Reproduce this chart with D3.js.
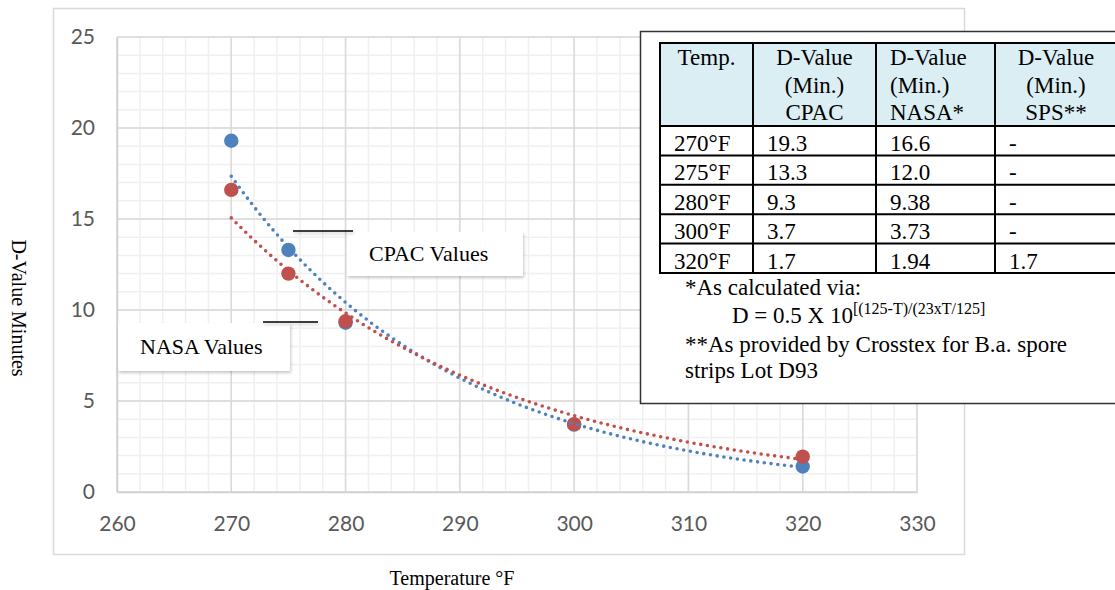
<!DOCTYPE html>
<html>
<head>
<meta charset="utf-8">
<script src="https://cdn.jsdelivr.net/npm/d3@7"></script>
<style>
  body { margin: 0; background: #fff; }
  svg { display: block; }
</style>
</head>
<body>
<svg id="chart" width="1115" height="590"></svg>
<script>
/*
  D-value vs temperature scatter with exponential trendlines and data table.
*/

// Measured temperatures (°F) and D-values (minutes) as plotted.
const temps = [270, 275, 280, 300, 320];
const cpacValues = [19.3, 13.3, 9.3, 3.7, 1.4];
const nasaValues = [16.6, 12.0, 9.38, 3.73, 1.94];

// Axis ticks.
const xTicks = [260, 270, 280, 290, 300, 310, 320, 330];
const yTicks = [0, 5, 10, 15, 20, 25];

// Table contents.
const tableHeaders = [
    ['Temp.'],
    ['D-Value', '(Min.)', 'CPAC'],
    ['D-Value', '(Min.)', 'NASA*'],
    ['D-Value', '(Min.)', 'SPS**']
];
const tableRows = [
    ['270°F', '19.3', '16.6', '-'],
    ['275°F', '13.3', '12.0', '-'],
    ['280°F', '9.3', '9.38', '-'],
    ['300°F', '3.7', '3.73', '-'],
    ['320°F', '1.7', '1.94', '1.7']
];

const colBlue = '#4f81bd',
    colRed = '#c0504d';

let svg = d3.select('#chart');

// Drop shadow for the callout boxes and leader lines (user space, so thin lines keep it).
let defs = svg.append('defs');
let shadow = defs.append('filter').attr('id', 'shadow')
    .attr('filterUnits', 'userSpaceOnUse')
    .attr('x', 0).attr('y', 0).attr('width', 1115).attr('height', 590);
shadow.append('feDropShadow')
    .attr('dx', 1).attr('dy', 2).attr('stdDeviation', 1.8)
    .attr('flood-color', '#000').attr('flood-opacity', 0.22);

// Outer chart frame.
svg.append('rect')
    .attr('x', 53.5).attr('y', 8.5).attr('width', 911).attr('height', 546)
    .attr('fill', '#fff').attr('stroke', '#d9d9d9').attr('stroke-width', 1.5);

// Scales.
let x = d3.scaleLinear().domain([260, 330]).range([117, 917]);
let y = d3.scaleLinear().domain([0, 25]).range([492, 37]);

// Gridlines: minor first, then major.
let grid = svg.append('g');
grid.selectAll('.xminor').data(d3.range(260, 331, 2))
    .enter().append('line')
    .attr('x1', d => x(d)).attr('x2', d => x(d))
    .attr('y1', y(0)).attr('y2', y(25))
    .attr('stroke', '#f0f0f0').attr('stroke-width', 1.5);
grid.selectAll('.yminor').data(d3.range(0, 26, 1))
    .enter().append('line')
    .attr('x1', x(260)).attr('x2', x(330))
    .attr('y1', d => y(d)).attr('y2', d => y(d))
    .attr('stroke', '#f0f0f0').attr('stroke-width', 1.5);
grid.selectAll('.xmajor').data(xTicks)
    .enter().append('line')
    .attr('x1', d => x(d)).attr('x2', d => x(d))
    .attr('y1', y(0)).attr('y2', y(25))
    .attr('stroke', '#d9d9d9').attr('stroke-width', 1.5);
grid.selectAll('.ymajor').data(yTicks)
    .enter().append('line')
    .attr('x1', x(260)).attr('x2', x(330))
    .attr('y1', d => y(d)).attr('y2', d => y(d))
    .attr('stroke', '#d9d9d9').attr('stroke-width', 1.5);

// Axes (labels only, Excel style).
let xAxis = svg.append('g')
    .attr('transform', `translate(0,${y(0)})`)
    .call(d3.axisBottom(x).tickValues(xTicks).tickSize(0).tickPadding(24));
let yAxis = svg.append('g')
    .attr('transform', `translate(${x(260)},0)`)
    .call(d3.axisLeft(y).tickValues(yTicks).tickSize(0).tickPadding(22));
[xAxis, yAxis].forEach(a => {
    a.select('.domain').attr('stroke', '#d0d0d0').attr('stroke-width', 1.5);
    a.selectAll('text')
        .attr('fill', '#595959')
        .style('font-family', 'Lato, "Open Sans", sans-serif')
        .style('font-size', '21px');
});

// Axis titles.
svg.append('text')
    .attr('transform', 'translate(12,308) rotate(90)')
    .attr('text-anchor', 'middle')
    .style('font-family', '"Liberation Serif", "Times New Roman", serif')
    .style('font-size', '20px')
    .text('D-Value Minutes');
svg.append('text')
    .attr('x', 452).attr('y', 585)
    .attr('text-anchor', 'middle')
    .style('font-family', '"Liberation Serif", "Times New Roman", serif')
    .style('font-size', '20px')
    .text('Temperature °F');

// Callout boxes with leader lines.
const callouts = [
    { text: 'CPAC Values', box: [347, 232, 176, 44], lead: [293, 353, 231] },
    { text: 'NASA Values', box: [118, 323, 172, 48], lead: [263, 318, 322] }
];
let calloutG = svg.append('g');
callouts.forEach(c => {
    calloutG.append('rect')
        .attr('x', c.box[0]).attr('y', c.box[1])
        .attr('width', c.box[2]).attr('height', c.box[3])
        .attr('fill', '#fff').attr('filter', 'url(#shadow)');
    calloutG.append('line')
        .attr('x1', c.lead[0]).attr('x2', c.lead[1])
        .attr('y1', c.lead[2]).attr('y2', c.lead[2])
        .attr('stroke', '#000').attr('stroke-width', 1.5)
        .attr('filter', 'url(#shadow)');
    calloutG.append('text')
        .attr('x', c.box[0] + 22).attr('y', c.box[1] + c.box[3] / 2 + 7)
        .style('font-family', '"Liberation Serif", "Times New Roman", serif')
        .style('font-size', '22px')
        .text(c.text);
});

// Exponential least-squares fit, as an Excel trendline does.
const expFit = (xs, ys) => {
    let ly = ys.map(Math.log);
    let mx = d3.mean(xs), my = d3.mean(ly);
    let sxy = d3.sum(xs, (v, i) => (v - mx) * (ly[i] - my));
    let sxx = d3.sum(xs, v => (v - mx) * (v - mx));
    let b = sxy / sxx, a = my - b * mx;
    return t => Math.exp(a + b * t);
};

const series = [
    { values: cpacValues, color: colBlue },
    { values: nasaValues, color: colRed }
];

// Markers.
series.forEach(s => {
    svg.append('g').selectAll('circle')
        .data(temps)
        .enter().append('circle')
        .attr('cx', d => x(d))
        .attr('cy', (d, i) => y(s.values[i]))
        .attr('r', 7.2)
        .attr('fill', s.color);
});

// Dotted trendlines.
let line = d3.line().x(d => x(d[0])).y(d => y(d[1]));
series.forEach(s => {
    let f = expFit(temps, s.values);
    let pts = d3.range(temps[0], temps[temps.length - 1] + 0.01, 0.5).map(t => [t, f(t)]);
    svg.append('path')
        .datum(pts)
        .attr('d', line)
        .attr('fill', 'none')
        .attr('stroke', s.color)
        .attr('stroke-width', 3.6)
        .attr('stroke-linecap', 'round')
        .attr('stroke-dasharray', '0 6.8');
});

// Table panel.
let tbl = svg.append('g')
    .style('font-family', '"Liberation Serif", "Times New Roman", serif')
    .style('font-size', '23px');
tbl.append('rect')
    .attr('x', 640.5).attr('y', 31.5).attr('width', 520).attr('height', 372)
    .attr('fill', '#fff').attr('stroke', '#333').attr('stroke-width', 1.5);

const colEdges = [660, 753, 876, 995, 1117];
const headTop = 43, headBottom = 126, rowH = 29.4;
const headAnchor = ['middle', 'middle', 'start', 'middle'];

tbl.append('rect')
    .attr('x', colEdges[0]).attr('y', headTop)
    .attr('width', colEdges[4] - colEdges[0]).attr('height', headBottom - headTop)
    .attr('fill', '#dbeef3');

tableHeaders.forEach((lines, c) => {
    let anchor = headAnchor[c];
    let tx = anchor === 'middle' ? (colEdges[c] + colEdges[c + 1]) / 2 : colEdges[c] + 14;
    lines.forEach((txt, k) => {
        tbl.append('text')
            .attr('x', tx).attr('y', 65 + k * 27.5)
            .attr('text-anchor', anchor)
            .text(txt);
    });
});

tableRows.forEach((row, r) => {
    row.forEach((txt, c) => {
        tbl.append('text')
            .attr('x', colEdges[c] + 14)
            .attr('y', headBottom + (r + 1) * rowH - 4.5)
            .text(txt);
    });
});

// Table rules.
const tableBottom = headBottom + tableRows.length * rowH;
let hLines = [headTop, headBottom].concat(tableRows.map((d, i) => headBottom + (i + 1) * rowH));
tbl.selectAll('.hl').data(hLines)
    .enter().append('line')
    .attr('x1', colEdges[0] - 1).attr('x2', colEdges[4])
    .attr('y1', d => d).attr('y2', d => d)
    .attr('stroke', '#000').attr('stroke-width', 2);
tbl.selectAll('.vl').data(colEdges)
    .enter().append('line')
    .attr('x1', d => d).attr('x2', d => d)
    .attr('y1', headTop).attr('y2', tableBottom)
    .attr('stroke', '#000').attr('stroke-width', 2);

// Footnotes.
tbl.append('text').attr('x', 685).attr('y', 295).text('*As calculated via:');
let formula = tbl.append('text').attr('x', 732).attr('y', 323);
formula.append('tspan').text('D = 0.5 X 10');
formula.append('tspan')
    .attr('dy', -9)
    .style('font-size', '16px')
    .text('[(125-T)/(23xT/125]');
tbl.append('text').attr('x', 685).attr('y', 352).text('**As provided by Crosstex for B.a. spore');
tbl.append('text').attr('x', 685).attr('y', 378).text('strips Lot D93');
</script>
</body>
</html>
